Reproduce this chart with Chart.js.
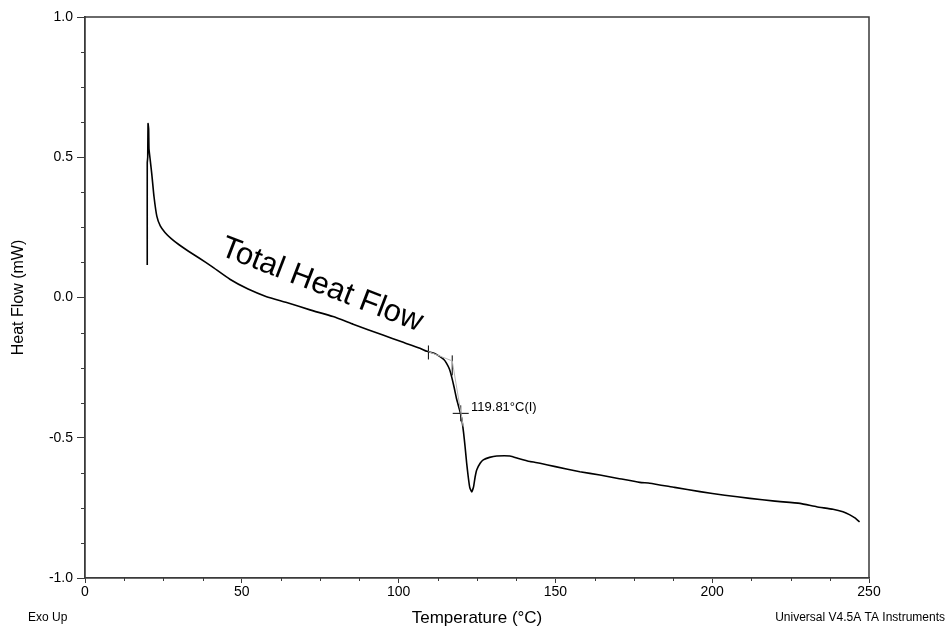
<!DOCTYPE html>
<html lang="en">
  <head>
    <meta charset="UTF-8" />
    <title>Total Heat Flow</title>
    <style>
      html, body { margin: 0; padding: 0; background: #fff; }
      canvas { display: block; }
    </style>
  </head>
  <body>
    <canvas id="dscChart" width="951" height="629"></canvas>

    <script src="https://cdn.jsdelivr.net/npm/chart.js@4/dist/chart.umd.min.js"></script>
    <script>
      // curve
      const temperature = [19.85, 19.85, 20.0, 20.1, 20.3, 20.4, 20.8, 21.3, 22.0, 22.9, 24.0, 25.5, 27.5, 30.0, 33.0, 36.5, 40.5, 46.2, 52, 57.9, 64.3, 72, 79.1, 85.5, 95, 101, 106.8, 109, 111.5, 113.2, 114.5, 115.3, 116.2, 116.9, 117.7, 118.5, 119.3, 120.1, 120.7, 121.2, 121.7, 122.2, 122.7, 123.3, 123.9, 124.4, 124.9, 126.0, 127.0, 129, 131.3, 135.5, 138.5, 141.9, 145.1, 150, 157.8, 164.2, 170, 176.9, 180.1, 188, 196.1, 204, 212, 220, 228, 233.3, 238.5, 241.7, 243.9, 245.5, 247];
      const heatFlow = [0.116, 0.48, 0.50, 0.62, 0.60, 0.53, 0.49, 0.44, 0.36, 0.29, 0.255, 0.232, 0.21, 0.188, 0.165, 0.14, 0.11, 0.065, 0.03, 0.003, -0.018, -0.045, -0.068, -0.095, -0.134, -0.158, -0.181, -0.192, -0.200, -0.211, -0.222, -0.235, -0.255, -0.282, -0.32, -0.362, -0.395, -0.43, -0.48, -0.532, -0.59, -0.639, -0.678, -0.693, -0.675, -0.64, -0.615, -0.591, -0.579, -0.57, -0.565, -0.565, -0.575, -0.585, -0.591, -0.603, -0.621, -0.633, -0.645, -0.659, -0.662, -0.677, -0.692, -0.705, -0.716, -0.726, -0.734, -0.746, -0.755, -0.764, -0.775, -0.786, -0.80];

      // glass transition analysis marks
      const onsetTemps = [109.5, 117.1];
      const onsetFlows = [-0.196, -0.242];
      const tangentTemps = [109.5, 117.1, 120.6];
      const tangentFlows = [-0.193, -0.226, -0.46];
      const inflectionTemp = 119.81;
      const inflectionFlow = -0.413;
      const inflectionLabel = "119.81°C(I)";

      const xTicks = [0, 50, 100, 150, 200, 250];
      const yTicks = [-1.0, -0.5, 0.0, 0.5, 1.0];

      const FONT = "Arial, 'Liberation Sans', sans-serif";
      const AXIS = "#3a3a3a";

      const toPoints = (xs, ys) => xs.map((x, i) => ({ x: x, y: ys[i] }));

      const extras = {
        id: "extras",
        afterDraw(chart) {
          const ctx = chart.ctx;
          const a = chart.chartArea;
          const xs = chart.scales.x, ys = chart.scales.y;
          ctx.save();
          ctx.strokeStyle = AXIS;
          ctx.lineWidth = 1.5;
          // top and right edges of the plot box
          ctx.beginPath();
          ctx.moveTo(a.left, a.top);
          ctx.lineTo(a.right, a.top);
          ctx.lineTo(a.right, a.bottom);
          ctx.stroke();

          // minor ticks
          ctx.lineWidth = 1;
          ctx.beginPath();
          for (let v = -1; v <= 1.0001; v += 0.125) {
            if (Math.abs(v * 2 - Math.round(v * 2)) < 1e-6) continue;
            const py = Math.round(ys.getPixelForValue(v)) + 0.5;
            ctx.moveTo(a.left - 4, py);
            ctx.lineTo(a.left, py);
          }
          for (let v = 0; v <= 250.001; v += 12.5) {
            if (v % 50 === 0) continue;
            const px = Math.round(xs.getPixelForValue(v)) + 0.5;
            ctx.moveTo(px, a.bottom);
            ctx.lineTo(px, a.bottom + 3);
          }
          ctx.stroke();

          // curve name
          ctx.fillStyle = "#000";
          ctx.font = "31px " + FONT;
          ctx.textBaseline = "alphabetic";
          ctx.translate(xs.getPixelForValue(42.7), ys.getPixelForValue(0.152));
          ctx.rotate(21 * Math.PI / 180);
          ctx.fillText("Total Heat Flow", 0, 0);
          ctx.setTransform(1, 0, 0, 1, 0, 0);

          // inflection label
          ctx.font = "13px " + FONT;
          ctx.fillText(inflectionLabel, xs.getPixelForValue(123.1), ys.getPixelForValue(-0.406));

          // footer texts
          ctx.fillStyle = "#000";
          ctx.font = "12px " + FONT;
          ctx.textBaseline = "middle";
          ctx.textAlign = "left";
          ctx.fillText("Exo Up", 28, 618);
          ctx.textAlign = "right";
          ctx.fillText("Universal V4.5A TA Instruments", 945, 618);
          ctx.restore();
        }
      };

      new Chart(document.getElementById("dscChart"), {
        type: "scatter",
        data: {
          datasets: [
            {
              data: toPoints(tangentTemps, tangentFlows),
              showLine: true,
              borderColor: "#b5b5b5",
              borderWidth: 1,
              pointRadius: 0
            },
            {
              data: toPoints(temperature, heatFlow),
              showLine: true,
              borderColor: "#000",
              borderWidth: 1.6,
              tension: 0.15,
              pointRadius: 0
            },
            {
              data: toPoints(onsetTemps, onsetFlows),
              showLine: false,
              pointStyle: "line",
              rotation: 90,
              pointRadius: [7, 10],
              borderColor: "#000",
              borderWidth: 1
            },
            {
              data: [{ x: inflectionTemp, y: inflectionFlow }],
              showLine: false,
              pointStyle: "cross",
              pointRadius: 8,
              borderColor: "#000",
              borderWidth: 1
            }
          ]
        },
        options: {
          responsive: false,
          animation: false,
          devicePixelRatio: 1,
          layout: { padding: { left: 0, top: 17, right: 82, bottom: 0 } },
          plugins: { legend: { display: false }, tooltip: { enabled: false } },
          scales: {
            x: {
              type: "linear",
              min: 0,
              max: 250,
              afterFit: s => { s.height = 51; },
              afterBuildTicks: s => { s.ticks = xTicks.map(v => ({ value: v })); },
              ticks: {
                color: "#000",
                font: { family: FONT, size: 14 },
                padding: 1,
                maxRotation: 0,
                callback: v => String(v)
              },
              grid: { drawOnChartArea: false, tickLength: 5, tickColor: AXIS, tickWidth: 1 },
              border: { color: AXIS, width: 1.8 },
              title: {
                display: true,
                text: "Temperature (°C)",
                color: "#000",
                font: { family: FONT, size: 17 },
                padding: { top: 0, bottom: 0 }
              }
            },
            y: {
              type: "linear",
              min: -1,
              max: 1,
              afterFit: s => { s.width = 85; },
              afterBuildTicks: s => { s.ticks = yTicks.map(v => ({ value: v })); },
              ticks: {
                color: "#000",
                font: { family: FONT, size: 14 },
                padding: 4,
                callback: v => v.toFixed(1)
              },
              grid: { drawOnChartArea: false, tickLength: 8, tickColor: AXIS, tickWidth: 1 },
              border: { color: AXIS, width: 1.8 },
              title: {
                display: true,
                text: "Heat Flow (mW)",
                color: "#000",
                font: { family: FONT, size: 16 },
                padding: { top: 9, bottom: 0 }
              }
            }
          }
        },
        plugins: [extras]
      });
    </script>
  </body>
</html>
